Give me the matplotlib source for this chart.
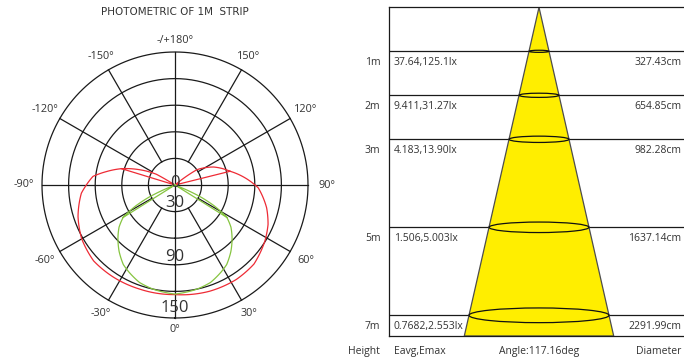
import numpy as np
import matplotlib
matplotlib.use('Agg')
import matplotlib.pyplot as plt
from matplotlib.patches import Ellipse, Polygon

plt.rcParams['font.family'] = ['Open Sans', 'DejaVu Sans']

# ---- polar data (angle from nadir in degrees, intensity 0..150) ----
red_theta = [-107, -107, -122, -120, -113.5, -107, -101, -96, -90, -85, -72, -60,
             -47, -34, -19, 0, 18, 33, 45, 58, 67, 76, 88, 95, 104,
             115, 125, 128, 130, 104, 104]
red_r = [63, 0, 0, 24, 43, 63, 79, 93, 100, 106, 115, 121.5,
         125.5, 125, 124, 123.6, 126, 127, 126, 119.5, 114, 106.5, 94, 81, 64,
         48, 30, 12, 0, 0, 64]

green_theta = [-58, -58, -68, -67, -65, -62, -58, -53, -47, -40, -33, -28, -20, -12, 0,
               12, 20, 28, 33, 40, 47, 53, 58, 62, 65, 67, 68, 58, 58]
green_r = [69, 0, 0, 15, 32, 50, 69, 79, 88, 98, 107, 111, 117, 120, 123,
           120, 117, 111, 107, 98, 88, 79, 69, 50, 32, 15, 0, 0, 69]

angle_ticks = [0, 30, 60, 90, 120, 150, 180, -150, -120, -90, -60, -30]
angle_labels = ['0°', '30°', '60°', '90°', '120°', '150°', '-/+180°',
                '-150°', '-120°', '-90°', '-60°', '-30°']
ring_values = [30, 60, 90, 120, 150]
ring_labels = {0: '0', 30: '30', 90: '90', 150: '150'}

# ---- cone table data ----
heights = [1, 2, 3, 5, 7]
height_labels = ['1m', '2m', '3m', '5m', '7m']
lux_labels = ['37.64,125.1lx', '9.411,31.27lx', '4.183,13.90lx', '1.506,5.003lx', '0.7682,2.553lx']
diam_labels = ['327.43cm', '654.85cm', '982.28cm', '1637.14cm', '2291.99cm']

W, H = 684, 363
fig = plt.figure(figsize=(W / 100, H / 100), dpi=100)

txt = '#333333'
grid_c = '#1a1a1a'

# polar plot
cx, cy, R = 175, 185, 133
ax = fig.add_axes([(cx - R) / W, (H - cy - R) / H, 2 * R / W, 2 * R / H], projection='polar')
ax.set_theta_zero_location('S')
ax.set_theta_direction(1)
ax.set_ylim(0, 150)
ax.set_xticks([])
ax.set_yticks([])
ax.grid(False)
ax.spines['polar'].set_visible(False)
ax.patch.set_alpha(0)

t = np.linspace(0, 2 * np.pi, 361)
for rv in ring_values:
    ax.plot(t, np.full_like(t, rv), color=grid_c, lw=0.9, clip_on=False)
for a in range(0, 360, 30):
    th = np.deg2rad(a)
    r0 = 0 if a % 90 == 0 else 30
    ax.plot([th, th], [r0, 150], color=grid_c, lw=0.9, clip_on=False)

for th_list, r_list, col in [(red_theta, red_r, '#EE2B35'), (green_theta, green_r, '#86C440')]:
    ln, = ax.plot(np.deg2rad(th_list), r_list, color=col, lw=0.9, clip_on=False)
    ln.get_path()._interpolation_steps = 30   # curved segments in polar space

for a, lab in zip(angle_ticks, angle_labels):
    th = np.deg2rad(a)
    ax.text(th, 163 + 8 * abs(np.sin(th)), lab, ha='center', va='center',
            fontsize=7.8, color=txt, clip_on=False)

for rv, dr in zip([0, 30, 90, 150], [2, 20, 81, 139]):
    th = np.pi if rv == 0 else 0
    ax.text(th, dr, ring_labels[rv], ha='center', va='center', fontsize=12,
            color=txt, clip_on=False)

fig.text(cx / W, 1 - 12 / H, 'PHOTOMETRIC OF 1M  STRIP', ha='center', va='center',
         fontsize=7.5, color=txt, family='DejaVu Sans')

# cone table
x0, y0, y1 = 389.3, 7.3, 336
px_per_m = 44.0
ymax = (y1 - y0) / px_per_m
tw = W - x0
ax2 = fig.add_axes([x0 / W, (H - y1) / H, tw / W, (y1 - y0) / H])
ax2.set_xlim(0, tw)
ax2.set_ylim(ymax, 0)
ax2.set_xticks([])
ax2.set_yticks([])
ax2.spines['right'].set_visible(False)
for s in ['left', 'top', 'bottom']:
    ax2.spines[s].set_linewidth(0.9)
    ax2.spines[s].set_color(grid_c)

apex = 539 - x0
half_per_m = 10.0
ax2.add_patch(Polygon([[apex, 0], [apex - half_per_m * ymax, ymax], [apex + half_per_m * ymax, ymax]],
                      closed=True, facecolor='#FFEE00', edgecolor='#4d4d4d', lw=0.9, zorder=2))
for h in heights:
    ax2.axhline(h, color=grid_c, lw=0.9, zorder=1)
    ax2.add_patch(Ellipse((apex, h), 2 * half_per_m * h, 2.1 * h / px_per_m, facecolor='none',
                          edgecolor='#111111', lw=0.9, zorder=3))

fs = 7.5
dy = 11.6 / px_per_m
for h, hl, ll, dl in zip(heights, height_labels, lux_labels, diam_labels):
    ax2.text(372.7 - x0, h + dy, hl, ha='center', va='center', fontsize=fs, color=txt, clip_on=False)
    ax2.text(4.7, h + dy, ll, ha='left', va='center', fontsize=fs, color=txt, clip_on=False)
    ax2.text(tw - 2.5, h + dy, dl, ha='right', va='center', fontsize=fs, color=txt, clip_on=False)

yb = (351.7 - y0) / px_per_m
ax2.text(380 - x0, yb, 'Height', ha='right', va='center', fontsize=fs, color=txt, clip_on=False)
ax2.text(4.7, yb, 'Eavg,Emax', ha='left', va='center', fontsize=fs, color=txt, clip_on=False)
ax2.text(apex, yb, 'Angle:117.16deg', ha='center', va='center', fontsize=fs, color=txt, clip_on=False)
ax2.text(tw - 2.5, yb, 'Diameter', ha='right', va='center', fontsize=fs, color=txt, clip_on=False)

fig.savefig('out.png', dpi=100)
